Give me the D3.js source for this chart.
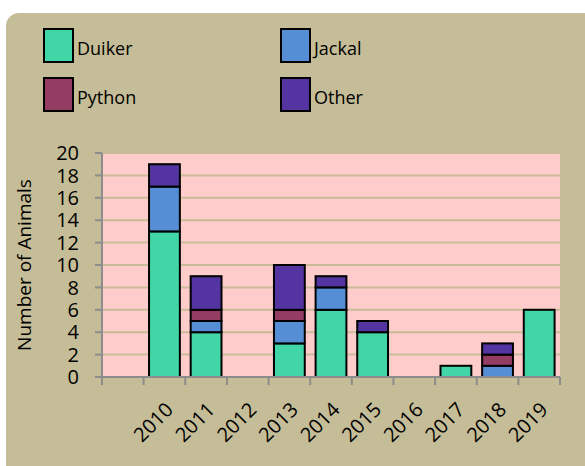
<!DOCTYPE html>
<html>
<head>
<meta charset="utf-8">
<script src="https://cdn.jsdelivr.net/npm/d3@7"></script>
<style>
  body { margin: 0; background: #ffffff; }
  svg { display: block; font-family: "Open Sans", sans-serif; }
</style>
</head>
<body>
<svg width="585" height="466"></svg>
<script>
// categories (first band is empty, as in the original)
const years = ["", "2010", "2011", "2012", "2013", "2014", "2015", "2016", "2017", "2018", "2019"];
const species = ["Duiker", "Jackal", "Python", "Other"];
const duiker = [0, 13, 4, 0, 3, 6, 4, 0, 1, 0, 6];
const jackal = [0, 4, 1, 0, 2, 2, 0, 0, 0, 1, 0];
const python = [0, 0, 1, 0, 1, 0, 0, 0, 0, 1, 0];
const other  = [0, 2, 3, 0, 4, 1, 1, 0, 0, 1, 0];
const yTicks = [0, 2, 4, 6, 8, 10, 12, 14, 16, 18, 20];
const colors = ["#42d6a6", "#558ed5", "#953c63", "#5434a0"];

const svg = d3.select("svg");

// panel background
svg.append("rect")
    .attr("x", 6).attr("y", 13)
    .attr("width", 600).attr("height", 470)
    .attr("rx", 13)
    .attr("fill", "#c5bd97");

const plotL = 102, plotR = 560, plotT = 153, plotB = 377;

const x = d3.scaleBand().domain(years).range([plotL, plotR]);
const y = d3.scaleLinear().domain([0, 20]).range([plotB, plotT]);

// plot area
svg.append("rect")
    .attr("x", plotL).attr("y", plotT)
    .attr("width", plotR - plotL).attr("height", plotB - plotT)
    .attr("fill", "#ffcccc");

// gridlines
svg.append("g").selectAll("line")
    .data(yTicks.filter(d => d > 0))
    .join("line")
    .attr("x1", plotL).attr("x2", plotR)
    .attr("y1", d => y(d)).attr("y2", d => y(d))
    .attr("stroke", "#c9bc98")
    .attr("stroke-width", 2);

// stacked bars
const table = years.map((yr, i) => ({
    year: yr, Duiker: duiker[i], Jackal: jackal[i], Python: python[i], Other: other[i]
}));
const stacked = d3.stack().keys(species)(table);
const barW = x.bandwidth() * 0.74;

svg.append("g").selectAll("g")
    .data(stacked)
    .join("g")
    .attr("fill", (d, i) => colors[i])
    .selectAll("rect")
    .data(d => d.filter(s => s[1] - s[0] > 0))
    .join("rect")
    .attr("x", d => x(d.data.year) + (x.bandwidth() - barW) / 2)
    .attr("y", d => y(d[1]))
    .attr("width", barW)
    .attr("height", d => y(d[0]) - y(d[1]))
    .attr("stroke", "#000")
    .attr("stroke-width", 2);

// y axis
const yAxis = svg.append("g");
yAxis.append("line")
    .attr("x1", plotL).attr("x2", plotL)
    .attr("y1", plotT).attr("y2", plotB)
    .attr("stroke", "#8c8c8c").attr("stroke-width", 2);
yAxis.selectAll("line.tick")
    .data(yTicks)
    .join("line")
    .attr("class", "tick")
    .attr("x1", plotL - 7).attr("x2", plotL)
    .attr("y1", d => y(d)).attr("y2", d => y(d))
    .attr("stroke", "#8c8c8c").attr("stroke-width", 2);
yAxis.selectAll("text")
    .data(yTicks)
    .join("text")
    .attr("x", 79)
    .attr("y", d => y(d))
    .attr("dy", "0.36em")
    .attr("text-anchor", "end")
    .attr("font-size", 20)
    .attr("fill", "#000")
    .text(d => d);

svg.append("text")
    .attr("transform", `translate(31,${(plotT + plotB) / 2}) rotate(-90)`)
    .attr("text-anchor", "middle")
    .attr("font-size", 19)
    .text("Number of Animals");

// x axis
const xAxis = svg.append("g");
xAxis.append("line")
    .attr("x1", plotL).attr("x2", plotR)
    .attr("y1", plotB).attr("y2", plotB)
    .attr("stroke", "#8c8c8c").attr("stroke-width", 2);
const edges = years.map(d => x(d)).concat([plotR]);
xAxis.selectAll("line.tick")
    .data(edges)
    .join("line")
    .attr("class", "tick")
    .attr("x1", d => d).attr("x2", d => d)
    .attr("y1", plotB).attr("y2", plotB + 8)
    .attr("stroke", "#8c8c8c").attr("stroke-width", 2);
xAxis.selectAll("text")
    .data(years.filter(d => d !== ""))
    .join("text")
    .attr("transform", d => `translate(${x(d) + x.bandwidth() / 2 + 10},${plotB + 34}) rotate(-45)`)
    .attr("text-anchor", "end")
    .attr("font-size", 20)
    .text(d => d);

// legend
const legendPos = [[43, 28], [280, 28], [43, 77], [280, 77]];
const legend = svg.append("g").selectAll("g")
    .data(species)
    .join("g")
    .attr("transform", (d, i) => `translate(${legendPos[i][0]},${legendPos[i][1]})`);
legend.append("rect")
    .attr("x", 1).attr("y", 1)
    .attr("width", 29).attr("height", 33)
    .attr("fill", (d, i) => colors[i])
    .attr("stroke", "#000").attr("stroke-width", 2);
legend.append("text")
    .attr("x", 34).attr("y", 27)
    .attr("font-size", 18)
    .text(d => d);
</script>
</body>
</html>
